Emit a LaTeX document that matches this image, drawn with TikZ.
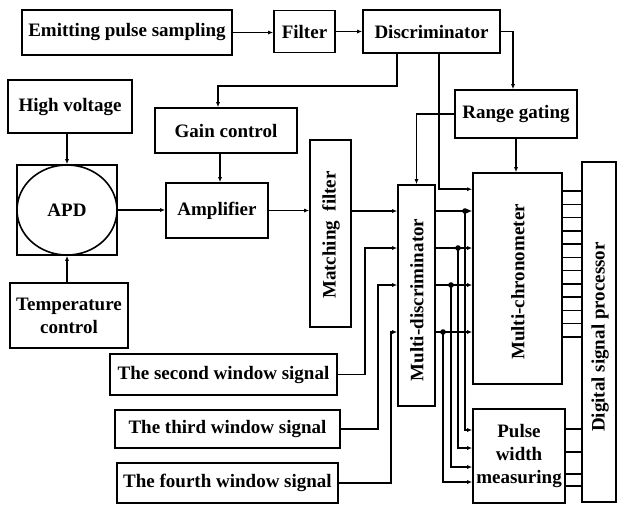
\documentclass[tikz,border=0pt]{standalone}
\usepackage{fontspec}
\setmainfont{Liberation Serif}
\usetikzlibrary{arrows.meta,shapes.geometric}

\tikzset{
    blk/.style 2 args={draw, line width=1.6pt, inner sep=0pt, minimum width=#1, minimum height=#2,
        align=center, font=\bfseries\fontsize{19}{23}\selectfont},
    lbl/.style={inner sep=0pt, font=\bfseries\fontsize{19}{23}\selectfont},
    conn/.style={line width=1.5pt, -{Latex[length=5pt,width=4pt]}},
    bus/.style={line width=1.5pt}
}

\begin{document}
\begin{tikzpicture}[x=1pt, y=-1pt]
    \useasboundingbox (0,0) rectangle (618,507);

    % Top row
    \node[blk={210pt}{45pt}] (emit) at (127,32.5) {Emitting pulse sampling};
    \node[blk={61pt}{42pt}] (filt) at (304.5,31.5) {Filter};
    \node[blk={137pt}{43pt}] (disc) at (431.5,31.5) {Discriminator};

    % Detector chain
    \node[blk={124pt}{53pt}] (hv) at (70,106.5) {High voltage};
    \node[blk={100pt}{90pt}] (apd) at (67,210) {};
    \node[draw, ellipse, line width=1.6pt, inner sep=0pt, minimum width=100pt, minimum height=90pt,
        font=\bfseries\fontsize{19}{23}\selectfont] (apdcore) at (apd) {APD};
    \node[blk={118pt}{65pt}] (temp) at (69,315.5) {Temperature\\control};
    \node[blk={142pt}{45pt}] (gain) at (226,130.5) {Gain control};
    \node[blk={102pt}{55pt}] (amp) at (217,210.5) {Amplifier};
    \node[blk={41pt}{187pt}] (match) at (330.5,233.5) {};
    \node[lbl, rotate=90] at (331,235) {Matching\enspace filter};

    % Timing part
    \node[blk={122pt}{48pt}] (rng) at (516,114) {Range gating};
    \node[blk={37pt}{221pt}] (mdisc) at (416.5,295.5) {};
    \node[lbl, rotate=90] at (417,300) {Multi-discriminator};
    \node[blk={89pt}{211pt}] (mchr) at (517.5,278.5) {};
    \node[lbl, rotate=90] at (518,282) {Multi-chronometer};
    \node[blk={92pt}{94pt}] (pwm) at (519,456) {Pulse\\width\\measuring};
    \node[blk={34pt}{340pt}] (dsp) at (599,332) {};
    \node[lbl, rotate=90] at (600,337) {Digital signal processor};

    % Window signals
    \node[blk={227pt}{41pt}] (w2) at (223.5,374.5) {The second window signal};
    \node[blk={225pt}{38pt}] (w3) at (227.5,429) {The third window signal};
    \node[blk={221pt}{40pt}] (w4) at (227.5,483) {The fourth window signal};

    % Ports on the multi-discriminator
    \foreach \n/\yy in {1/211, 2/248, 3/285, 4/332}
        \coordinate (md\n) at (mdisc.west |- 0,\yy);

    % Connections
    \draw[conn] (emit.east) -- (emit.east -| filt.west);
    \draw[conn] (filt.east) -- (filt.east -| disc.west);
    \draw[conn] (disc.east) -| ([xshift=-3pt]rng.north);
    \draw[conn] ([xshift=35pt]disc.south west) -- ++(0,32) -| ([xshift=-8pt]gain.north);
    \draw[conn] ([xshift=77pt]disc.south west) |- ([yshift=-17pt]mchr.north west);
    \draw[conn] (rng.west) -| (mdisc.north);
    \draw[conn] (rng.south) -- (rng.south |- mchr.north);
    \draw[conn] (hv.south -| apd.north) -- (apd.north);
    \draw[conn] (temp.north -| apd.south) -- (apd.south);
    \draw[conn] ([xshift=-6pt]gain.south) -- ([xshift=-6pt]gain.south |- amp.north);
    \draw[conn] (apd.east) -- (apd.east -| amp.west);
    \draw[conn] (amp.east) -- (amp.east -| match.west);
    \draw[conn] (md1 -| match.east) -- (md1);
    \draw[conn] (w2.east) -- ++(27,0) |- (md2);
    \draw[conn] (w3.east) -- ++(37,0) |- (md3);
    \draw[conn] (w4.east) -- ++(52,0) |- (md4);

    % Outputs of the multi-discriminator
    \foreach \n/\xd/\yp in {1/465/430, 2/458/448, 3/451/467, 4/443/482} {
        \draw[conn] (mdisc.east |- md\n) -- (mchr.west |- md\n);
        \fill (md\n -| \xd,0) circle (2.8);
        \draw[conn] (md\n -| \xd,0) |- (pwm.west |- 0,\yp);
    }

    % Buses to the processor
    \foreach \i in {0,...,11} {
        \pgfmathsetmacro\yy{191+\i*13.27}
        \draw[bus] (mchr.east |- 0,\yy) -- (dsp.west |- 0,\yy);
    }
    \foreach \yy in {429,452,474,486}
        \draw[bus] (pwm.east |- 0,\yy) -- (dsp.west |- 0,\yy);
\end{tikzpicture}
\end{document}
